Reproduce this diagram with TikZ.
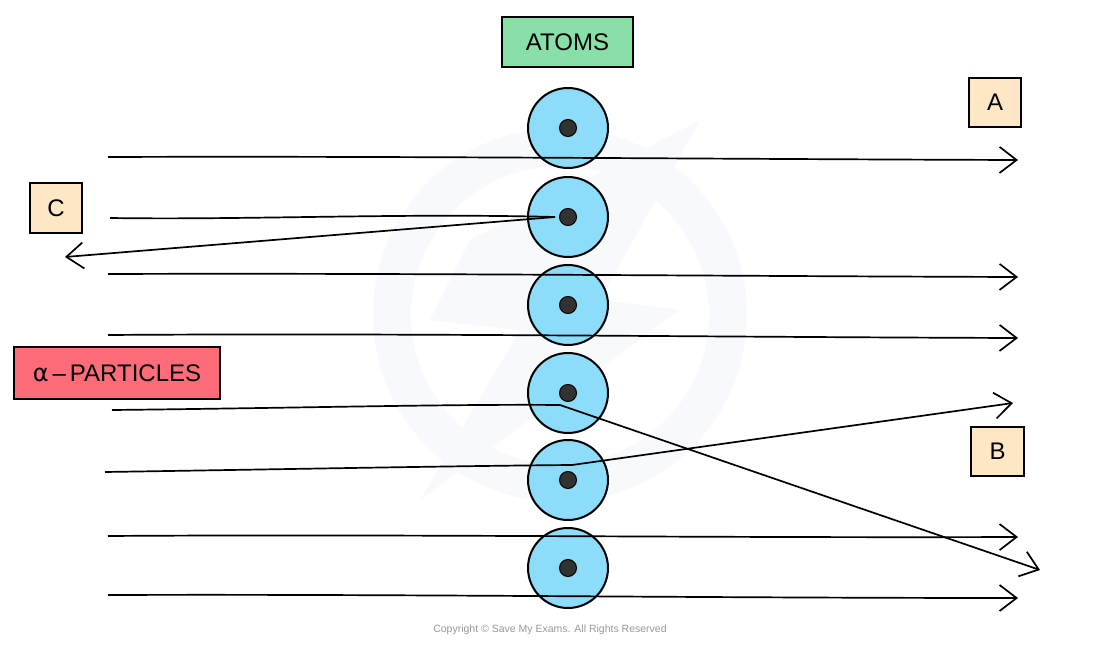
\documentclass[tikz,border=0pt]{standalone}
\usepackage{fontspec}
\setmainfont{Liberation Sans}
\usetikzlibrary{arrows.meta}
\definecolor{atomblue}{RGB}{140,220,250}
\definecolor{nucgray}{RGB}{50,50,50}
\definecolor{boxgreen}{RGB}{136,224,168}
\definecolor{boxpeach}{RGB}{254,231,197}
\definecolor{boxred}{RGB}{253,108,120}
\definecolor{wmark}{RGB}{247,249,252}
\tikzset{
  atom/.style={circle, draw=black, line width=2pt, fill=atomblue, minimum size=80pt, inner sep=0pt},
  nucleus/.style={circle, fill=nucgray, draw=black, line width=1pt, minimum size=17pt, inner sep=0pt},
  labelbox/.style={draw=black, line width=1.8pt, inner sep=0pt, font=\fontsize{24}{28}\selectfont},
  ray/.style={line width=1.7pt, -{Straight Barb[length=17pt,width=26pt,line width=1.7pt]}},
  plain/.style={line width=1.7pt},
}
\begin{document}
\begin{tikzpicture}[x=1pt,y=-1pt]
\useasboundingbox (0,0) rectangle (1100,647);
\fill[white] (0,0) rectangle (1100,647);
% faint watermark
\draw[wmark, line width=38pt] (560,315) circle (168);
\fill[wmark] (470,240) -- (700,120) -- (600,300) -- (680,310) -- (420,500) -- (520,330) -- (430,320) -- cycle;

% atoms
\foreach \i/\y in {1/128,2/217,3/305,4/393,5/480,6/568}{
  \node[atom] (a\i) at (568,\y) {};
  \node[nucleus] (n\i) at (568,\y) {};
}

% labels
\node[labelbox, fill=boxgreen, minimum width=131pt, minimum height=50pt] (atoms) at (567.5,42) {ATOMS};
\node[labelbox, fill=boxpeach, minimum width=52pt, minimum height=49pt] (A) at (995,102.5) {A};
\node[labelbox, fill=boxpeach, minimum width=53pt, minimum height=49pt] (B) at (997.5,451.5) {B};
\node[labelbox, fill=boxpeach, minimum width=52pt, minimum height=50pt] (C) at (56,208) {C};
\node[labelbox, fill=boxred, minimum width=206pt, minimum height=52pt] (alpha) at (117,373) {\fontspec{DejaVu Sans}α\fontspec{Liberation Sans}\,–\,PARTICLES};

% ray end points
\coordinate (s1) at (108,157);  \coordinate (e1) at (1018,160);
\coordinate (s2) at (110,218);  \coordinate (k2) at (555,217); \coordinate (e2) at (65,257);
\coordinate (s3) at (108,274);  \coordinate (e3) at (1018,277);
\coordinate (s4) at (108,335);  \coordinate (e4) at (1018,338);
\coordinate (s5) at (112,410);  \coordinate (k5) at (560,405); \coordinate (e5) at (1040,570);
\coordinate (s6) at (105,472);  \coordinate (k6) at (572,465); \coordinate (e6) at (1013,403);
\coordinate (s7) at (108,536);  \coordinate (e7) at (1018,537);
\coordinate (s8) at (108,595);  \coordinate (e8) at (1018,598);

% rays
\draw[ray] (s1) .. controls (400,156) and (700,159) .. (e1);
\draw[plain] (s2) .. controls (250,220) and (400,213) .. (k2);
\draw[ray] (k2) -- (e2);
\draw[ray] (s3) .. controls (400,273) and (700,276) .. (e3);
\draw[ray] (s4) .. controls (400,333) and (700,337) .. (e4);
\draw[plain] (s5) .. controls (300,408) and (450,404) .. (k5);
\draw[ray] (k5) -- (e5);
\draw[plain] (s6) .. controls (300,469) and (450,466) .. (k6);
\draw[ray] (k6) -- (e6);
\draw[ray] (s7) .. controls (400,534) and (700,538) .. (e7);
\draw[ray] (s8) .. controls (400,594) and (700,598) .. (e8);

% copyright
\node[text=black!40, font=\fontsize{10.5}{12}\selectfont] (copy) at (550,630) {Copyright © Save My Exams. All Rights Reserved};
\end{tikzpicture}
\end{document}
